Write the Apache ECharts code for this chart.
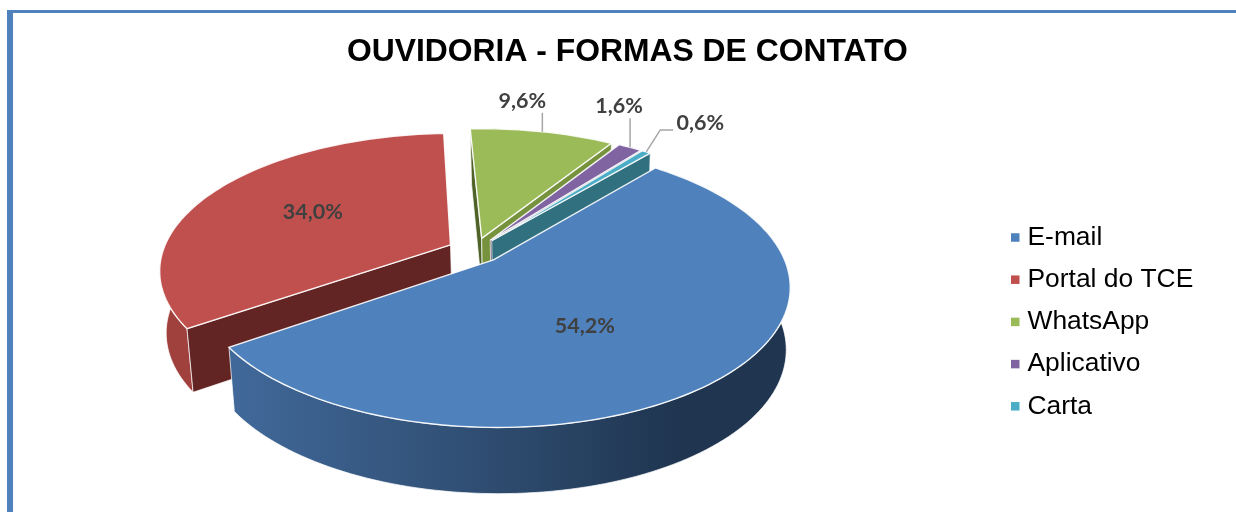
<!DOCTYPE html>
<html><head><meta charset="utf-8">
<style>html,body{margin:0;padding:0;background:#fff}#c{width:1236px;height:512px}</style>
<script src="https://cdn.jsdelivr.net/npm/echarts@6/dist/echarts.min.js"></script>
</head><body><div id="c"></div>
<script>
const categories = ['E-mail','Portal do TCE','WhatsApp','Aplicativo','Carta'];
const values = [54.2,34.0,9.6,1.6,0.6];
const valueLabels = ['54,2%','34,0%','9,6%','1,6%','0,6%'];
const colors = ['#4F81BD','#C0504D','#9BBB59','#8064A2','#4BACC6'];

// view of the tilted disc
const view = {cx:474.8, cy:250.5, rx:287.5, ry:133.5, persp:0.18, depth:61, depthPersp:0.08, shrink:0.0167, shrinkCx:550, explode:0.095, startDeg:40};
// styling of the extruded radial faces that are visible from the camera (null = faces away)
const faceStart = [null,'#632523','#4F6228',null,null];
const faceEnd   = [null,null,'#76923C','#4D3B62','#31707F'];
const rimFill = [
  new echarts.graphic.LinearGradient(0,0,1,0,[{offset:0,color:'#41699A'},{offset:0.5,color:'#2D4A6D'},{offset:0.8,color:'#1F3550'},{offset:1,color:'#1F3550'}]),
  '#A0413E','#76923C','#604A7B','#31859C'];
// label layout relative to the slice's mid-angle anchor
const labelLayout = [
  {rho:0.52, dx:-20, dy:10},
  {rho:0.58, dx:3, dy:-1},
  {rho:1, dx:-20, dy:-31, leader:true},
  {rho:1, dx:-11, dy:-41, leader:true},
  {rho:1, dx:54, dy:-29, leader:'elbow'}
];

const rad = d => d*Math.PI/180;
function slicesFrom(vals){
  const total = vals.reduce((a,b)=>a+b,0);
  let a = view.startDeg;
  return vals.map(v=>{const s=a; a+=v/total*360; return [s,a];});
}
const spans = slicesFrom(values);

function proj(u,v,bottom){
  const s = 1/(1-view.persp*v);
  let X = view.cx+view.rx*u*s, Y = view.cy+view.ry*v*s;
  if(bottom){
    X = X-(X-view.shrinkCx)*view.shrink;
    Y = Y+view.depth*(1+view.depthPersp*v);
  }
  return [X,Y];
}
function sliceGeom(i){
  const [a0,a1] = spans[i];
  const mid = (a0+a1)/2;
  const ox = view.explode*Math.sin(rad(mid)), oy = -view.explode*Math.cos(rad(mid));
  const at = (deg,r,b)=>proj(ox+r*Math.sin(rad(deg)), oy-r*Math.cos(rad(deg)), b);
  return {a0,a1,mid,at};
}
function arc(g,b,reverse){
  const n = Math.max(4,Math.ceil((g.a1-g.a0)/1.5));
  const pts=[];
  for(let k=0;k<=n;k++) pts.push(g.at(g.a0+(g.a1-g.a0)*k/n,1,b));
  return reverse?pts.reverse():pts;
}
const edge = 'rgba(255,255,255,0.9)';
function renderSlice(i){
  return function(params,api){
    const g = sliceGeom(i), ch=[];
    const face=(pts,fill,w)=>ch.push({type:'polygon',shape:{points:pts},style:{fill:fill,stroke:edge,lineWidth:w==null?1:w}});
    const radial=(deg,fill)=>{ if(fill) face([g.at(deg,0,false),g.at(deg,1,false),g.at(deg,1,true),g.at(deg,0,true)],fill,0.8); };
    face(arc(g,false,false).concat(arc(g,true,true)),rimFill[i],0.8);
    radial(g.a0,faceStart[i]);
    radial(g.a1,faceEnd[i]);
    face([g.at(g.a0,0,false)].concat(arc(g,false,false)),colors[i],1.4);
    return {type:'group',children:ch};
  };
}
function renderLabel(i){
  return function(params,api){
    const g = sliceGeom(i), L = labelLayout[i];
    const p = g.at(g.mid,L.rho,false), ch=[];
    const tx = p[0]+L.dx, ty = p[1]+L.dy;
    if(L.leader===true){
      ch.push({type:'polyline',shape:{points:[[p[0],p[1]],[p[0],ty+12]]},style:{stroke:'#A6A6A6',lineWidth:1.5,fill:null}});
    } else if(L.leader==='elbow'){
      ch.push({type:'polyline',shape:{points:[[p[0],p[1]],[p[0]+14,ty+7],[tx-27,ty+7]]},style:{stroke:'#A6A6A6',lineWidth:1.5,fill:null}});
    }
    ch.push({type:'text',style:{x:tx,y:ty,text:valueLabels[i],align:'center',verticalAlign:'middle',
      font:'bold 21.5px Lato, "Open Sans", sans-serif',fill:'#404040'}});
    return {type:'group',children:ch};
  };
}
const drawOrder = [1,2,3,4,0];
const series = drawOrder.map(i=>({type:'custom',name:categories[i],coordinateSystem:'none',silent:true,
  itemStyle:{color:colors[i]},data:[[values[i]]],renderItem:renderSlice(i),clip:false}));
drawOrder.forEach(i=>series.push({type:'custom',name:valueLabels[i],coordinateSystem:'none',silent:true,
  data:[[values[i]]],renderItem:renderLabel(i),clip:false,z:5}));

const chart = echarts.init(document.getElementById('c'),null,{renderer:'canvas'});
chart.setOption({
  animation:false,
  backgroundColor:'#fff',
  color:colors,
  title:{text:'OUVIDORIA - FORMAS DE CONTATO',left:347,top:36,padding:0,
    textStyle:{fontFamily:'"Liberation Sans",Arial,sans-serif',fontWeight:'bold',fontSize:31.85,color:'#000'}},
  legend:{data:categories.map(n=>({name:n,icon:'rect'})),orient:'vertical',left:1011,top:221.5,padding:0,
    itemWidth:8.5,itemHeight:8.5,itemGap:10.2,selectedMode:false,
    textStyle:{fontFamily:'"Liberation Sans",Arial,sans-serif',fontSize:26.4,color:'#000',padding:[4,0,0,3],lineHeight:28}},
  graphic:[
    {type:'rect',shape:{x:7,y:10,width:1229,height:3},style:{fill:'#4F81BD'},silent:true},
    {type:'rect',shape:{x:7,y:10,width:6,height:502},style:{fill:'#4F81BD'},silent:true}
  ],
  series:series
});
</script></body></html>
